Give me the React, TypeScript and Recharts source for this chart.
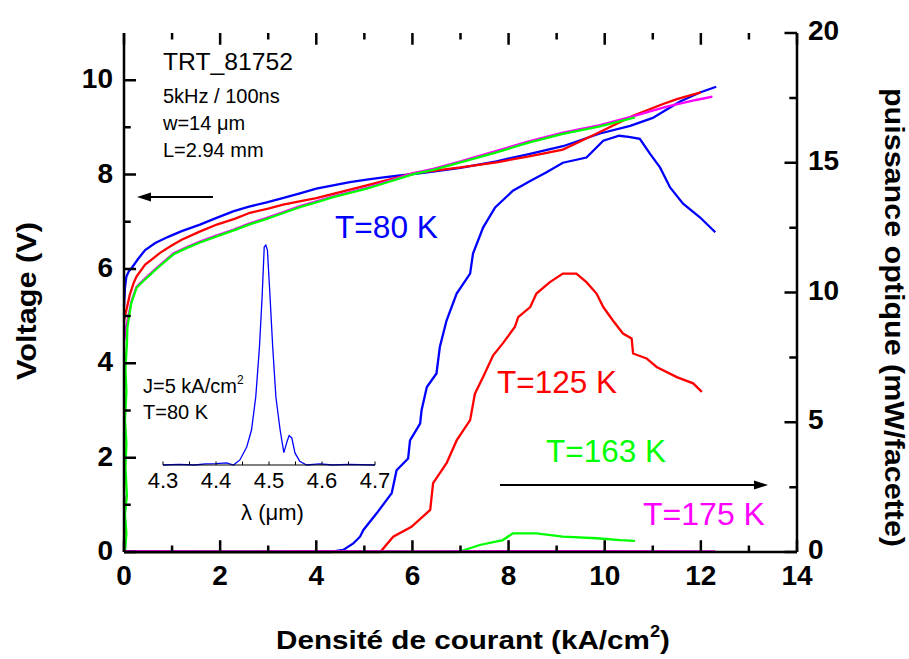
import React from 'react';
import { LineChart, Line, XAxis, YAxis } from 'recharts';

const FONT = '"Liberation Sans", Arial, sans-serif';

// tick values
const J_TICKS = [0, 1, 2, 3, 4, 5, 6, 7, 8, 9, 10, 11, 12, 13, 14];
const V_TICKS = [0, 1, 2, 3, 4, 5, 6, 7, 8, 9, 10];
const P_TICKS = [0, 2.5, 5, 7.5, 10, 12.5, 15, 17.5, 20];
const LAMBDA_TICKS = [4.3, 4.35, 4.4, 4.45, 4.5, 4.55, 4.6, 4.65, 4.7];

// voltage (V) vs current density (kA/cm2)
const BLUE_V_J = [0, 0.02, 0.05, 0.1, 0.16, 0.3, 0.44, 0.65, 0.92, 1.2, 1.58, 1.9, 2.27, 2.6, 2.97, 3.3, 3.66, 4.0, 4.35, 4.7, 5.05, 5.4, 5.74, 6.1, 6.43, 7.0, 7.75, 8.4, 9.13, 9.9, 10.53, 11.0, 11.29, 11.57, 11.98, 12.32];
const BLUE_V = [5.2, 5.6, 5.84, 5.95, 6.02, 6.22, 6.4, 6.55, 6.68, 6.8, 6.94, 7.07, 7.22, 7.32, 7.41, 7.5, 7.6, 7.7, 7.77, 7.84, 7.89, 7.94, 7.98, 8.02, 8.06, 8.14, 8.28, 8.43, 8.6, 8.87, 9.03, 9.2, 9.38, 9.55, 9.74, 9.86];

const RED_V_J = [0, 0.05, 0.12, 0.2, 0.26, 0.44, 0.6, 0.75, 1.0, 1.2, 1.55, 1.93, 2.3, 2.62, 3.0, 3.31, 3.65, 4.0, 4.35, 4.7, 5.05, 5.39, 5.74, 6.02, 6.43, 7.0, 7.75, 8.4, 9.13, 9.9, 10.6, 11.2, 11.5, 12.0];
const RED_V = [4.9, 5.13, 5.45, 5.7, 5.84, 6.09, 6.22, 6.34, 6.5, 6.62, 6.78, 6.94, 7.06, 7.19, 7.28, 7.36, 7.43, 7.5, 7.59, 7.68, 7.77, 7.86, 7.95, 8.03, 8.08, 8.15, 8.26, 8.38, 8.53, 8.9, 9.25, 9.49, 9.6, 9.74];

const MAGENTA_V_J = [0, 0.02, 0.01, 0.01, 0.01, 0.03, 0.06, 0.09, 0.15, 0.26, 0.44, 0.71, 1.03, 1.3, 1.58, 1.9, 2.27, 2.6, 2.97, 3.3, 3.66, 4.0, 4.35, 4.7, 5.05, 5.4, 5.74, 6.02, 6.43, 7.0, 7.75, 8.4, 9.13, 9.9, 10.6, 11.29, 11.9, 12.24];
const MAGENTA_V = [0, 0.6, 1.2, null, 4.5, 4.7, 4.85, 4.98, 5.3, 5.62, 5.8, 6.05, 6.33, 6.46, 6.58, 6.7, 6.83, 6.96, 7.08, 7.2, 7.33, 7.43, 7.54, 7.63, 7.72, 7.83, 7.94, 8.03, 8.12, 8.28, 8.5, 8.7, 8.89, 9.05, 9.24, 9.44, 9.58, 9.65];

const GREEN_V_J = [0.02, 0.05, 0.02, 0.06, 0.03, 0.05, 0.02, 0.05, 0.03, 0.06, 0.07, 0.1, 0.15, 0.26, 0.44, 0.71, 1.03, 1.3, 1.58, 1.9, 2.27, 2.6, 2.97, 3.3, 3.66, 4.0, 4.35, 4.7, 5.05, 5.4, 5.74, 6.02, 6.43, 7.0, 7.75, 8.4, 9.13, 9.9, 10.63];
const GREEN_V = [0, 0.4, 0.8, 1.2, 1.8, 2.3, 2.8, 3.4, 3.9, 4.4, 4.75, 4.95, 5.27, 5.6, 5.78, 6.03, 6.31, 6.44, 6.56, 6.68, 6.81, 6.94, 7.06, 7.18, 7.31, 7.41, 7.52, 7.61, 7.7, 7.81, 7.92, 8.01, 8.1, 8.26, 8.47, 8.67, 8.86, 9.02, 9.21];

// optical power (mW/facet) vs current density
const BLUE_P_J = [0, 4.29, 4.56, 4.77, 4.91, 4.98, 5.26, 5.57, 5.67, 5.91, 5.95, 6.16, 6.19, 6.3, 6.5, 6.57, 6.71, 6.92, 7.2, 7.26, 7.47, 7.72, 8.09, 8.45, 8.79, 9.13, 9.62, 9.97, 10.3, 10.5, 10.73, 10.94, 11.15, 11.36, 11.63, 11.98, 12.3];
const BLUE_P = [0, 0, 0.08, 0.33, 0.59, 0.85, 1.5, 2.27, 3.15, 3.6, 4.3, 4.95, 5.46, 6.36, 6.88, 7.9, 8.92, 9.96, 10.73, 11.5, 12.5, 13.28, 13.92, 14.3, 14.63, 15.0, 15.2, 15.85, 16.04, 16.0, 15.92, 15.35, 14.82, 14.05, 13.42, 12.9, 12.32];

const RED_P_J = [0, 5.33, 5.6, 5.98, 6.37, 6.43, 6.71, 6.92, 7.2, 7.3, 7.47, 7.68, 7.88, 8.13, 8.2, 8.45, 8.58, 8.86, 9.13, 9.41, 9.62, 9.83, 9.97, 10.17, 10.38, 10.56, 10.59, 10.87, 11.08, 11.5, 11.84, 12.02];
const RED_P = [0, 0, 0.59, 0.97, 1.62, 2.65, 3.42, 4.3, 5.08, 6.1, 6.74, 7.58, 8.04, 8.67, 9.05, 9.44, 9.96, 10.4, 10.73, 10.73, 10.4, 9.96, 9.44, 8.92, 8.42, 8.23, 7.65, 7.46, 7.13, 6.74, 6.5, 6.17];

const GREEN_P_J = [0, 6.95, 7.4, 7.88, 8.09, 8.58, 9.13, 9.83, 10.32, 10.63];
const GREEN_P = [0, 0, 0.27, 0.46, 0.72, 0.72, 0.59, 0.53, 0.46, 0.43];

const MAGENTA_P_J = [0, 2, 4, 6, 8, 10, 12.3];
const MAGENTA_P = [0.03, 0.02, 0.03, 0.02, 0.03, 0.03, 0.02];

// inset spectrum, J=5 kA/cm2, T=80 K
const LAMBDA = [4.3, 4.33, 4.36, 4.38, 4.4, 4.42, 4.433, 4.445, 4.458, 4.467, 4.475, 4.482, 4.487, 4.491, 4.494, 4.497, 4.502, 4.507, 4.513, 4.521, 4.528, 4.535, 4.538, 4.543, 4.549, 4.558, 4.571, 4.596, 4.62, 4.65, 4.7];
const INTENSITY = [0, 0.003, 0, 0.005, 0.006, 0.01, 0, 0.023, 0.082, 0.159, 0.309, 0.536, 0.764, 0.991, 1.0, 0.977, 0.764, 0.536, 0.309, 0.159, 0.056, 0.114, 0.134, 0.123, 0.055, 0.017, 0, 0.005, 0, 0.003, 0];

const zip = (xs: number[], ys: (number | null)[], key: string) => xs.map((x, i) => ({ x, [key]: ys[i] }));

const BLUE = '#0000ff';
const RED = '#ff0000';
const GREEN = '#00ff00';
const MAGENTA = '#ff00ff';

const FRAME = { stroke: '#000', strokeWidth: 2.5 };

// inward tick marks as short broken segments, lengths in axis units (~11px major / ~6px minor)
const vertTicks = (ticks: number[], from: number, dir: number, major: (t: number) => boolean, big: number, small: number, key: string) =>
  ticks.flatMap((t) => [{ x: t, [key]: from }, { x: t, [key]: from + dir * (major(t) ? big : small) }, { x: t, [key]: null }]);
const horizTicks = (ticks: number[], from: number, dir: number, major: (t: number) => boolean, big: number, small: number, key: string) =>
  ticks.flatMap((t) => [{ x: from, [key]: t }, { x: from + dir * (major(t) ? big : small), [key]: t }, { x: from, [key]: null }]);

const even = (t: number) => t % 2 === 0;
const fives = (t: number) => t % 5 === 0;

const BottomLabel = (props: any) => {
  const { x, y, payload } = props;
  if (payload.value % 2 !== 0) return <g />;
  return (
    <text x={x} y={y + 33} textAnchor="middle" fontSize={28} fontWeight="bold" fontFamily={FONT} fill="#000">
      {payload.value}
    </text>
  );
};

const LeftLabel = (props: any) => {
  const { x, y, payload } = props;
  if (payload.value % 2 !== 0) return <g />;
  return (
    <text x={x - 11} y={y + 8} textAnchor="end" fontSize={28} fontWeight="bold" fontFamily={FONT} fill="#000">
      {payload.value}
    </text>
  );
};

const RightLabel = (props: any) => {
  const { x, y, payload } = props;
  if (payload.value % 5 !== 0) return <g />;
  return (
    <text x={x + 11} y={y + 7} textAnchor="start" fontSize={28} fontWeight="bold" fontFamily={FONT} fill="#000">
      {payload.value}
    </text>
  );
};

const InsetLabel = (props: any) => {
  const { x, y, payload } = props;
  if (Math.round(payload.value * 100) % 10 !== 0) return <g />;
  return (
    <text x={x} y={y + 23} textAnchor="middle" fontSize={22} fontFamily={FONT} fill="#000">
      {payload.value.toFixed(1)}
    </text>
  );
};

const Arrow = ({ x1, x2, y }: { x1: number; x2: number; y: number }) => {
  const dir = x2 > x1 ? 1 : -1;
  return (
    <g>
      <line x1={x1} y1={y} x2={x2 - dir * 10} y2={y} stroke="#000" strokeWidth={2} />
      <polygon points={`${x2},${y} ${x2 - dir * 14},${y - 4.5} ${x2 - dir * 14},${y + 4.5}`} fill="#000" />
    </g>
  );
};

export default function App() {
  const lineProps = { type: 'linear' as const, dot: false, isAnimationActive: false, strokeWidth: 2.3 };
  return (
    <div style={{ position: 'absolute', left: 0, top: 0, width: 909, height: 659, background: '#fff', fontFamily: FONT }}>
      <LineChart width={909} height={659} margin={{ top: 33, left: 64, right: 52, bottom: 67 }}>
        <XAxis dataKey="x" type="number" domain={[0, 14]} ticks={J_TICKS} interval={0} height={40}
          tickSize={0} tickMargin={0} axisLine={FRAME} tick={(p: any) => <BottomLabel {...p} />} />
        <XAxis xAxisId="top" orientation="top" dataKey="x" type="number" domain={[0, 14]} ticks={J_TICKS} interval={0}
          height={0} tickSize={0} tickMargin={0} axisLine={FRAME} tick={false} />
        <YAxis yAxisId="v" type="number" domain={[0, 11]} ticks={V_TICKS} interval={0} width={60}
          tickSize={0} tickMargin={0} axisLine={FRAME} tick={(p: any) => <LeftLabel {...p} />} />
        <YAxis yAxisId="p" orientation="right" type="number" domain={[0, 20]} ticks={P_TICKS} interval={0} width={60}
          tickSize={0} tickMargin={0} axisLine={FRAME} tick={(p: any) => <RightLabel {...p} />} />

        <Line {...lineProps} yAxisId="v" data={zip(BLUE_V_J, BLUE_V, 'v')} dataKey="v" stroke={BLUE} />
        <Line {...lineProps} yAxisId="v" data={zip(RED_V_J, RED_V, 'v')} dataKey="v" stroke={RED} />
        <Line {...lineProps} yAxisId="v" data={zip(MAGENTA_V_J, MAGENTA_V, 'v')} dataKey="v" stroke={MAGENTA} />
        <Line {...lineProps} yAxisId="v" data={zip(GREEN_V_J, GREEN_V, 'v')} dataKey="v" stroke={GREEN} />

        <Line {...lineProps} yAxisId="p" data={zip(BLUE_P_J, BLUE_P, 'p')} dataKey="p" stroke={BLUE} />
        <Line {...lineProps} yAxisId="p" data={zip(RED_P_J, RED_P, 'p')} dataKey="p" stroke={RED} />
        <Line {...lineProps} yAxisId="p" data={zip(GREEN_P_J, GREEN_P, 'p')} dataKey="p" stroke={GREEN} />
        <Line {...lineProps} yAxisId="p" data={zip(MAGENTA_P_J, MAGENTA_P, 'p')} dataKey="p" stroke={MAGENTA} />

        {/* inward tick marks on the four sides */}
        <Line yAxisId="v" dataKey="v" data={vertTicks(J_TICKS, 0, 1, even, 0.25, 0.14, 'v')}
          stroke="#000" strokeWidth={2.5} dot={false} isAnimationActive={false} />
        <Line yAxisId="v" dataKey="v" data={vertTicks(J_TICKS, 11, -1, even, 0.25, 0.14, 'v')}
          stroke="#000" strokeWidth={2.5} dot={false} isAnimationActive={false} />
        <Line yAxisId="v" dataKey="v" data={horizTicks(V_TICKS, 0, 1, even, 0.25, 0.14, 'v')}
          stroke="#000" strokeWidth={2.5} dot={false} isAnimationActive={false} />
        <Line yAxisId="p" dataKey="p" data={horizTicks(P_TICKS, 14, -1, fives, 0.26, 0.16, 'p')}
          stroke="#000" strokeWidth={2.5} dot={false} isAnimationActive={false} />
      </LineChart>

      {/* inset: emission spectrum */}
      <div style={{ position: 'absolute', left: 140, top: 230 }}>
        <LineChart width={260} height={300} margin={{ top: 15, left: 23, right: 25, bottom: 25 }}>
          <XAxis dataKey="x" type="number" domain={[4.3, 4.7]} ticks={LAMBDA_TICKS} interval={0} height={40}
            tickSize={0} tickMargin={0} axisLine={{ stroke: '#000', strokeWidth: 1 }} tick={(p: any) => <InsetLabel {...p} />} />
          <YAxis hide type="number" domain={[0, 1]} />
          <Line type="linear" dataKey="i" data={zip(LAMBDA, INTENSITY, 'i')} stroke={BLUE} strokeWidth={1.3} dot={false} isAnimationActive={false} />
          <Line type="linear" dataKey="i" data={vertTicks(LAMBDA_TICKS, 0, 1, () => true, 0.016, 0.016, 'i')}
            stroke="#000" strokeWidth={1} dot={false} isAnimationActive={false} />
        </LineChart>
      </div>

      <svg width={909} height={659} style={{ position: 'absolute', left: 0, top: 0, pointerEvents: 'none' }} fontFamily={FONT}>
        <text x={163} y={70} fontSize={24} fill="#000" textLength={130} lengthAdjust="spacingAndGlyphs">TRT_81752</text>
        <text x={163} y={103} fontSize={20} fill="#000">5kHz / 100ns</text>
        <text x={163} y={130} fontSize={20} fill="#000">w=14 μm</text>
        <text x={163} y={157} fontSize={20} fill="#000">L=2.94 mm</text>

        <Arrow x1={213} x2={137} y={197} />
        <Arrow x1={500} x2={768} y={485} />

        <text x={335} y={238} fontSize={31} fill={BLUE} textLength={103} lengthAdjust="spacingAndGlyphs">T=80 K</text>
        <text x={497} y={393} fontSize={31} fill={RED} textLength={120} lengthAdjust="spacingAndGlyphs">T=125 K</text>
        <text x={546} y={462} fontSize={31} fill={GREEN} textLength={120} lengthAdjust="spacingAndGlyphs">T=163 K</text>
        <text x={643} y={525} fontSize={31} fill={MAGENTA} textLength={122} lengthAdjust="spacingAndGlyphs">T=175 K</text>

        <text x={143} y={393} fontSize={20} fill="#000">J=5 kA/cm<tspan fontSize={12} dy={-9}>2</tspan></text>
        <text x={143} y={419} fontSize={20} fill="#000">T=80 K</text>
        <text x={272.5} y={520} fontSize={22} textAnchor="middle" fill="#000">λ (μm)</text>

        <text x={276} y={649} fontSize={26} fontWeight="bold" fill="#000" textLength={394} lengthAdjust="spacingAndGlyphs">
          Densité de courant (kA/cm<tspan fontSize={16} dy={-12}>2</tspan><tspan dy={12}>)</tspan>
        </text>
        <text transform="translate(36,301) rotate(-90)" x={0} y={0} fontSize={28} fontWeight="bold" textAnchor="middle"
          fill="#000" textLength={158} lengthAdjust="spacingAndGlyphs">Voltage (V)</text>
        <text transform="translate(885,317.5) rotate(90)" x={0} y={0} fontSize={28} fontWeight="bold" textAnchor="middle"
          fill="#000" textLength={459} lengthAdjust="spacingAndGlyphs">puissance optique (mW/facette)</text>
      </svg>
    </div>
  );
}
